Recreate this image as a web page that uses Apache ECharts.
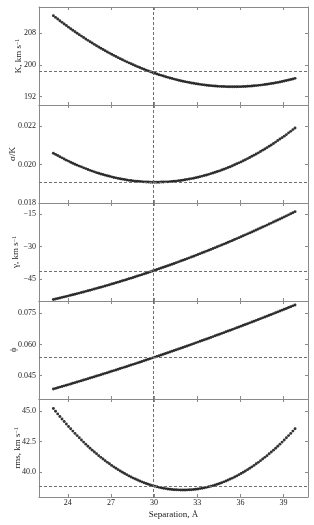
<!DOCTYPE html>
<html><head><meta charset="utf-8">
<script src="https://cdn.jsdelivr.net/npm/echarts@6/dist/echarts.min.js"></script>
<style>html,body{margin:0;padding:0;background:#fff}#c{width:314px;height:525px}</style>
</head><body><div id="c"></div>
<script>
const sep = [23.00,23.15,23.30,23.45,23.60,23.75,23.90,24.05,24.20,24.35,
24.50,24.65,24.80,24.95,25.10,25.25,25.40,25.55,25.70,25.85,
26.00,26.15,26.30,26.45,26.60,26.75,26.90,27.05,27.20,27.35,
27.50,27.65,27.80,27.95,28.10,28.25,28.40,28.55,28.70,28.85,
29.00,29.15,29.30,29.45,29.60,29.75,29.90,30.05,30.20,30.35,
30.50,30.65,30.80,30.95,31.10,31.25,31.40,31.55,31.70,31.85,
32.00,32.15,32.30,32.45,32.60,32.75,32.90,33.05,33.20,33.35,
33.50,33.65,33.80,33.95,34.10,34.25,34.40,34.55,34.70,34.85,
35.00,35.15,35.30,35.45,35.60,35.75,35.90,36.05,36.20,36.35,
36.50,36.65,36.80,36.95,37.10,37.25,37.40,37.55,37.70,37.85,
38.00,38.15,38.30,38.45,38.60,38.75,38.90,39.05,39.20,39.35,
39.50,39.65,39.80];

const K = [212.41,211.98,211.56,211.14,210.73,210.32,209.92,209.52,209.13,208.75,
208.37,207.99,207.62,207.26,206.90,206.54,206.19,205.85,205.51,205.17,
204.84,204.52,204.20,203.89,203.58,203.27,202.98,202.68,202.40,202.11,
201.83,201.56,201.29,201.03,200.78,200.52,200.28,200.04,199.80,199.57,
199.34,199.12,198.91,198.69,198.49,198.29,198.09,197.90,197.72,197.54,
197.37,197.20,197.03,196.87,196.72,196.57,196.43,196.29,196.15,196.03,
195.90,195.79,195.67,195.57,195.46,195.37,195.27,195.19,195.11,195.03,
194.96,194.89,194.83,194.78,194.72,194.68,194.64,194.60,194.57,194.55,
194.53,194.51,194.50,194.50,194.50,194.51,194.52,194.53,194.56,194.58,
194.61,194.65,194.69,194.74,194.79,194.85,194.91,194.98,195.05,195.13,
195.22,195.30,195.40,195.50,195.60,195.71,195.82,195.94,196.07,196.20,
196.33,196.47,196.62];

const sigmaK = [0.02059,0.02053,0.02047,0.02041,0.02035,0.02029,0.02023,0.02018,0.02012,0.02007,
0.02002,0.01997,0.01992,0.01988,0.01983,0.01979,0.01974,0.01970,0.01966,0.01962,
0.01958,0.01955,0.01951,0.01948,0.01945,0.01942,0.01939,0.01936,0.01933,0.01931,
0.01928,0.01926,0.01924,0.01922,0.01920,0.01918,0.01917,0.01915,0.01914,0.01913,
0.01912,0.01911,0.01910,0.01909,0.01909,0.01908,0.01908,0.01908,0.01908,0.01908,
0.01909,0.01909,0.01910,0.01910,0.01911,0.01912,0.01913,0.01914,0.01916,0.01917,
0.01919,0.01921,0.01923,0.01925,0.01927,0.01929,0.01932,0.01934,0.01937,0.01940,
0.01943,0.01946,0.01949,0.01953,0.01956,0.01960,0.01964,0.01967,0.01972,0.01976,
0.01980,0.01985,0.01989,0.01994,0.01999,0.02004,0.02009,0.02014,0.02020,0.02025,
0.02031,0.02037,0.02043,0.02049,0.02055,0.02061,0.02068,0.02075,0.02081,0.02088,
0.02095,0.02102,0.02110,0.02117,0.02125,0.02133,0.02140,0.02148,0.02156,0.02165,
0.02173,0.02182,0.02190];

const gamma = [-54.40,-54.17,-53.93,-53.69,-53.45,-53.21,-52.97,-52.72,-52.47,-52.22,
-51.96,-51.71,-51.45,-51.19,-50.92,-50.66,-50.39,-50.12,-49.85,-49.57,
-49.30,-49.02,-48.73,-48.45,-48.16,-47.88,-47.58,-47.29,-47.00,-46.70,
-46.40,-46.09,-45.79,-45.48,-45.17,-44.86,-44.55,-44.23,-43.91,-43.59,
-43.27,-42.94,-42.61,-42.28,-41.95,-41.61,-41.28,-40.94,-40.59,-40.25,
-39.90,-39.55,-39.20,-38.85,-38.49,-38.14,-37.78,-37.41,-37.05,-36.68,
-36.31,-35.94,-35.56,-35.19,-34.81,-34.43,-34.04,-33.66,-33.27,-32.88,
-32.49,-32.09,-31.69,-31.29,-30.89,-30.49,-30.08,-29.67,-29.26,-28.85,
-28.43,-28.01,-27.59,-27.17,-26.74,-26.32,-25.89,-25.45,-25.02,-24.58,
-24.14,-23.70,-23.26,-22.81,-22.36,-21.91,-21.46,-21.00,-20.55,-20.09,
-19.62,-19.16,-18.69,-18.22,-17.75,-17.28,-16.80,-16.32,-15.84,-15.36,
-14.87,-14.39,-13.90];

const phi = [0.03860,0.03890,0.03921,0.03951,0.03981,0.04012,0.04043,0.04073,0.04104,0.04135,
0.04166,0.04197,0.04229,0.04260,0.04292,0.04323,0.04355,0.04387,0.04419,0.04451,
0.04483,0.04515,0.04548,0.04580,0.04613,0.04645,0.04678,0.04711,0.04744,0.04777,
0.04810,0.04844,0.04877,0.04911,0.04944,0.04978,0.05012,0.05046,0.05080,0.05114,
0.05149,0.05183,0.05218,0.05252,0.05287,0.05322,0.05357,0.05392,0.05427,0.05462,
0.05498,0.05533,0.05569,0.05604,0.05640,0.05676,0.05712,0.05748,0.05784,0.05821,
0.05857,0.05894,0.05930,0.05967,0.06004,0.06041,0.06078,0.06115,0.06153,0.06190,
0.06228,0.06265,0.06303,0.06341,0.06379,0.06417,0.06455,0.06493,0.06532,0.06570,
0.06609,0.06647,0.06686,0.06725,0.06764,0.06803,0.06842,0.06882,0.06921,0.06961,
0.07000,0.07040,0.07080,0.07120,0.07160,0.07200,0.07241,0.07281,0.07322,0.07362,
0.07403,0.07444,0.07485,0.07526,0.07567,0.07608,0.07650,0.07691,0.07733,0.07774,
0.07816,0.07858,0.07900];

const rms = [45.20,44.98,44.76,44.55,44.34,44.14,43.93,43.73,43.54,43.35,
43.16,42.98,42.80,42.62,42.45,42.28,42.11,41.95,41.79,41.64,
41.49,41.34,41.20,41.06,40.93,40.79,40.67,40.54,40.42,40.30,
40.19,40.08,39.98,39.87,39.78,39.68,39.59,39.50,39.42,39.34,
39.26,39.19,39.12,39.06,38.99,38.94,38.88,38.83,38.79,38.74,
38.71,38.67,38.64,38.61,38.59,38.57,38.55,38.54,38.53,38.52,
38.52,38.52,38.53,38.54,38.55,38.57,38.59,38.61,38.64,38.67,
38.71,38.74,38.79,38.83,38.88,38.94,38.99,39.06,39.12,39.19,
39.26,39.34,39.42,39.50,39.59,39.68,39.78,39.87,39.98,40.08,
40.19,40.30,40.42,40.54,40.67,40.79,40.93,41.06,41.20,41.34,
41.49,41.64,41.79,41.95,42.11,42.28,42.45,42.62,42.80,42.98,
43.16,43.35,43.54];

// tick values
const xTicks = [24, 27, 30, 33, 36, 39];
const kTicks = [192, 200, 208];
const sigmaTicks = [0.018, 0.020, 0.022];
const gammaTicks = [-45, -30, -15];
const phiTicks = [0.045, 0.060, 0.075];
const rmsTicks = [40.0, 42.5, 45.0];

// reference (dashed) lines
const sepRef = 29.93;
const refK = 198.5;
const refSigma = 0.01908;
const refGamma = -41.2;
const refPhi = 0.0537;
const refRms = 38.8;

const FONT = "'Liberation Serif','DejaVu Serif',serif";
const AXC = '#8a8a8a';
const TXT = '#222';

const panels = [
  {name: '{n|K, km s}{s|−1}', data: K, min: 189.9, max: 214.6, ticks: kTicks, ref: refK, fmt: v => String(v), gap: 16},
  {name: '{n|σ/K}', data: sigmaK, min: 0.018, max: 0.0231, ticks: sigmaTicks, ref: refSigma, fmt: v => v.toFixed(3), gap: 22},
  {name: '{n|γ, km s}{s|−1}', data: gamma, min: -55.1, max: -9.9, ticks: gammaTicks, ref: refGamma, fmt: v => String(v).replace('-', '−'), gap: 19},
  {name: '{n|ϕ}', data: phi, min: 0.0338, max: 0.0809, ticks: phiTicks, ref: refPhi, fmt: v => v.toFixed(3), gap: 21},
  {name: '{n|rms, km s}{s|−1}', data: rms, min: 37.95, max: 45.98, ticks: rmsTicks, ref: refRms, fmt: v => v.toFixed(1), gap: 17}
];

const grids = [], xAxes = [], yAxes = [], series = [];
const top0 = 7, ph = 98;
panels.forEach((p, i) => {
  grids.push({left: 39, right: 6, top: top0 + ph * i, height: ph, containLabel: false, outerBoundsMode: 'none'});
  const isLast = i === panels.length - 1;
  const baseX = {
    type: 'value', gridIndex: i, min: 22, max: 40.7,
    axisLine: {show: true, onZero: false, lineStyle: {color: AXC, width: 1}},
    axisTick: {show: true, inside: true, length: 3, customValues: xTicks, lineStyle: {color: AXC}},
    splitLine: {show: false}
  };
  xAxes.push(Object.assign({}, baseX, {
    position: 'bottom',
    axisLabel: {show: isLast, customValues: xTicks, fontFamily: FONT, fontSize: 8, color: TXT, margin: 2},
    name: isLast ? 'Separation, Å' : '',
    nameLocation: 'middle', nameGap: 13,
    nameTextStyle: {fontFamily: FONT, fontSize: 9, color: TXT}
  }));
  xAxes.push(Object.assign({}, baseX, {position: 'top', axisLabel: {show: false}}));
  const baseY = {
    type: 'value', gridIndex: i, min: p.min, max: p.max,
    axisLine: {show: true, onZero: false, lineStyle: {color: AXC, width: 1}},
    axisTick: {show: true, inside: true, length: 3, customValues: p.ticks, lineStyle: {color: AXC}},
    splitLine: {show: false}
  };
  yAxes.push(Object.assign({}, baseY, {
    position: 'left',
    axisLabel: {show: true, customValues: p.ticks, formatter: p.fmt, fontFamily: FONT, fontSize: 8, color: TXT, margin: 3},
    name: p.name, nameLocation: 'middle', nameRotate: 90, nameGap: p.gap, nameMoveOverlap: false,
    nameTextStyle: {color: TXT, rich: {
      n: {fontFamily: FONT, fontSize: 9, color: TXT},
      s: {fontFamily: FONT, fontSize: 6, color: TXT, verticalAlign: 'top'}
    }}
  }));
  yAxes.push(Object.assign({}, baseY, {position: 'right', axisLabel: {show: false}}));
  series.push({
    type: 'scatter', xAxisIndex: 2 * i, yAxisIndex: 2 * i,
    data: sep.map((x, j) => [x, p.data[j]]),
    symbol: 'circle', symbolSize: 2.9,
    itemStyle: {color: '#000'},
    z: 3,
    markLine: {
      silent: true, symbol: 'none', precision: 8, label: {show: false}, animation: false,
      lineStyle: {color: '#707070', type: [3, 2], width: 1},
      data: [{xAxis: sepRef}, {yAxis: p.ref}]
    }
  });
});

const chart = echarts.init(document.getElementById('c'), null, {renderer: 'canvas'});
chart.setOption({
  animation: false,
  backgroundColor: '#fff',
  grid: grids, xAxis: xAxes, yAxis: yAxes, series: series
});
</script>
</body></html>
